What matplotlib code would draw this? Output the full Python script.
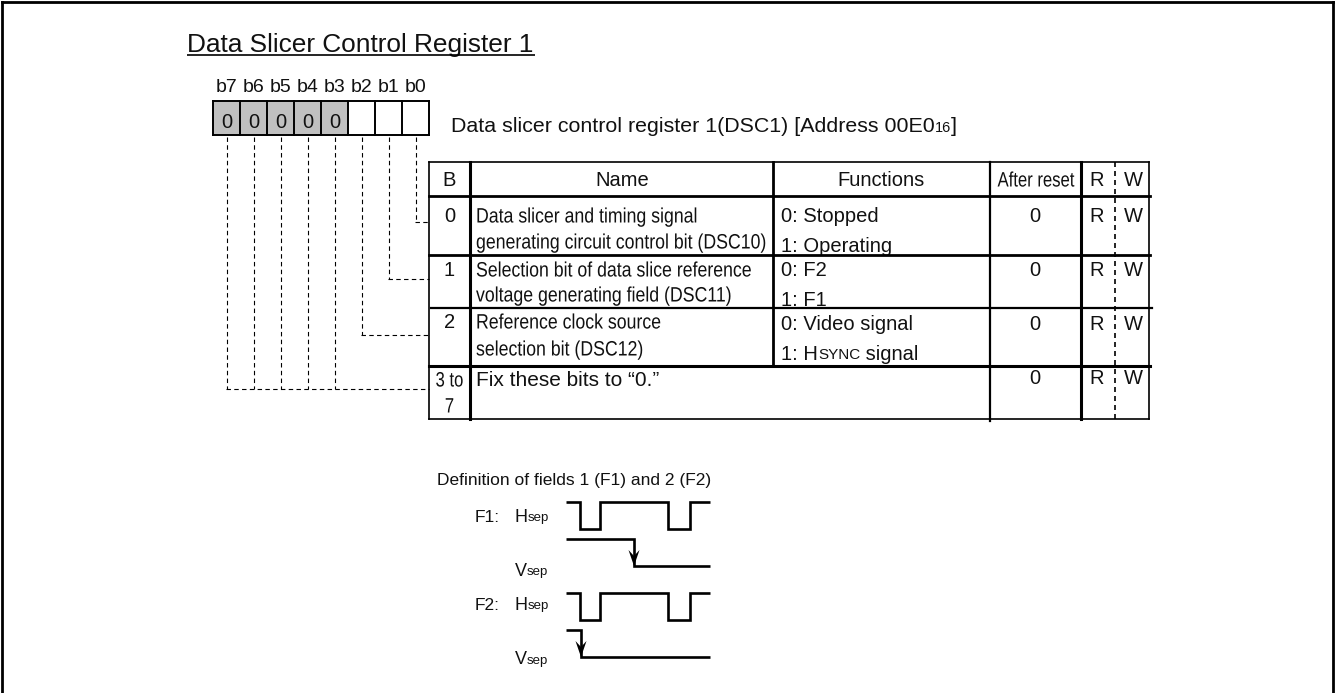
import matplotlib
matplotlib.use("Agg")
import matplotlib.pyplot as plt
from matplotlib.patheffects import AbstractPathEffect
from matplotlib.transforms import Affine2D

plt.rcParams['font.family'] = ['Liberation Sans', 'DejaVu Sans']

title = "Data Slicer Control Register 1"
bit_labels = ["b7", "b6", "b5", "b4", "b3", "b2", "b1", "b0"]
bit_values = ["0", "0", "0", "0", "0", "", "", ""]
col_headers = ["B", "Name", "Functions", "After reset", "R", "W"]
row_bits = ["0", "1", "2"]
row_names = [["Data slicer and timing signal", "generating circuit control bit (DSC10)"],
             ["Selection bit of data slice reference", "voltage generating field (DSC11)"],
             ["Reference clock source", "selection bit (DSC12)"]]
row_funcs = [["0: Stopped", "1: Operating"], ["0: F2", "1: F1"]]
resets = ["0", "0", "0", "0"]

col_x = [429, 470, 773, 990, 1081, 1115, 1149]
row_y = [162, 196, 255, 308, 366, 419]
cell_x = [213 + 27 * i for i in range(9)]
cell_top, cell_bot = 101, 135
hsep_x = [566, 580, 600, 668, 690, 710]
vsep1_x = [566, 634, 634, 710]
vsep2_x = [566, 581, 581, 710]

fig = plt.figure(figsize=(13.35, 6.93), dpi=100)
ax = fig.add_axes([0, 0, 1, 1])
ax.set_xlim(0, 1335)
ax.set_ylim(693, 0)
ax.axis('off')
K = '#000000'


class Squeeze(AbstractPathEffect):
    def __init__(self, x0, sx):
        super().__init__()
        self.x0, self.sx = x0, sx

    def draw_path(self, renderer, gc, tpath, affine, rgbFace=None):
        a = Affine2D(affine.get_matrix()).translate(-self.x0, 0).scale(self.sx, 1).translate(self.x0, 0)
        renderer.draw_path(gc, tpath, a, rgbFace)


def line(xs, ys, lw=1.5, **kw):
    kw.setdefault('solid_capstyle', 'projecting')
    ax.plot(xs, ys, color=K, lw=lw, zorder=4, **kw)


def txt(x, y, s, size=15, ha='left', sx=None, color='#111111'):
    t = ax.text(x, y + 1, s, fontsize=size, ha=ha, va='center', color=color, zorder=2)
    if sx is not None:
        t.set_path_effects([Squeeze(x, sx)])
    return t


def run(x, y, pieces):
    r = fig.canvas.get_renderer()
    for s, size in pieces:
        t = txt(x, y + (1 if size < 12 else 0), s, size)
        x = ax.transData.inverted().transform(t.get_window_extent(r))[1][0]


# outer frame
line([1.5, 1.5], [693, 1.5], 2)
line([1.5, 1333], [1.5, 1.5], 2)
line([1333, 1333], [1.5, 693], 2)

# title
txt(187, 44, title, 18.9)
line([187, 535], [55, 55], 1.2, solid_capstyle='butt')

# register
for i, b in enumerate(bit_labels):
    cx = (cell_x[i] + cell_x[i + 1]) / 2
    txt(cx, 87, b, 14, ha='center')
    filled = bit_values[i] != ""
    ax.fill([cell_x[i], cell_x[i + 1], cell_x[i + 1], cell_x[i]],
            [cell_top, cell_top, cell_bot, cell_bot],
            color='#c0c0c0' if filled else 'white', zorder=1, lw=0)
    txt(cx, 121, bit_values[i], 14.5, ha='center')
for x in cell_x:
    line([x, x], [cell_top, cell_bot], 1.4)
for y in (cell_top, cell_bot):
    line([cell_x[0], cell_x[-1]], [y, y], 1.4)
run(451, 126, [("Data slicer control register 1(DSC1) [Address 00E0", 15.4), ("16", 10.5), ("]", 15.4)])

# leaders
leader_y = [222, 279, 335, 389, 389, 389, 389, 389]
for i in range(8):
    j = 7 - i
    cx = (cell_x[j] + cell_x[j + 1]) / 2
    line([cx, cx], [137, leader_y[i]], 0.8, ls=(0, (4, 3)))
for yy, x0 in [(222, 414.5), (279, 388), (335, 361), (389, 226)]:
    line([x0, 429], [yy, yy], 0.8, ls=(0, (4, 3)))

# table grid
line([col_x[0], col_x[-1]], [row_y[0], row_y[0]], 1.2)
line([col_x[0], col_x[-1]], [row_y[-1], row_y[-1]], 1.2)
line([col_x[0], col_x[0]], [row_y[0], row_y[-1]], 1.2)
line([col_x[-1], col_x[-1]], [row_y[0], row_y[-1]], 1.2)
line([col_x[1], col_x[1]], [row_y[0], row_y[-1]], 2.2)
line([col_x[2], col_x[2]], [row_y[0], row_y[4]], 2.0)
line([col_x[3], col_x[3]], [row_y[0], 421], 1.6)
line([col_x[4], col_x[4]], [row_y[0], row_y[-1]], 2.2)
line([col_x[5], col_x[5]], [row_y[0], row_y[-1]], 1.2, ls=(0, (3, 2.4)))
line([col_x[0], 1150], [row_y[1], row_y[1]], 2.0)
line([col_x[0], 1150], [row_y[2], row_y[2]], 2.0)
line([col_x[0] + 2, 1152], [row_y[3], row_y[3]], 1.6)
line([col_x[0], 1150], [row_y[4], row_y[4]], 2.2)

# header
hy = 180
for i, h in enumerate(col_headers):
    cx = [449.5, 622, 881, 1036, 1097, 1133][i]
    txt(cx, hy, h, 14.5 if i != 3 else 15, ha='center', sx=0.8 if i == 3 else None)

# body
line1_y = [216, 270, 322]
line2_y = [242, 295, 349]
for i in range(3):
    txt(449.5, line1_y[i], row_bits[i], 14.5, ha='center')
    txt(476, line1_y[i], row_names[i][0], 15, sx=0.85)
    txt(476, line2_y[i], row_names[i][1], 15, sx=0.85)
for i in range(2):
    txt(781, line1_y[i] - 1, row_funcs[i][0], 14.5)
    txt(781, [245, 300][i], row_funcs[i][1], 14.5)
txt(781, 323, "0: Video signal", 14.5)
run(781, 353, [("1: H", 14.5), ("SYNC", 11), (" signal", 14.5)])
txt(449.5, 380, "3 to", 15, ha='center', sx=0.8)
txt(449.5, 406, "7", 15, ha='center', sx=0.8)
txt(476, 380, "Fix these bits to \u201c0.\u201d", 15)
for i, r in enumerate(resets):
    y = [216, 270, 323, 377][i]
    txt(1035, y, r, 14.5, ha='center')
    txt(1097, y, "R", 14.5, ha='center')
    txt(1133, y, "W", 14.5, ha='center')

# timing
txt(437, 479, "Definition of fields 1 (F1) and 2 (F2)", 12.5)
for y0, lab in [(516, "F1:"), (604, "F2:")]:
    txt(475, y0, lab, 12.5)
for y0 in (516, 604):
    run(515, y0, [("H", 13), ("sep", 9.5)])
for y0 in (570, 659):
    run(515, y0, [("V", 13), ("sep", 9.5)])


def hsep(top, bot):
    a = hsep_x
    line([a[0], a[1], a[1], a[2], a[2], a[3], a[3], a[4], a[4], a[5]],
         [top, top, bot, bot, top, top, bot, bot, top, top], 1.9,
         solid_joinstyle='miter', solid_capstyle='butt')


hsep(502, 529)
hsep(593, 620)
line([566, vsep1_x[1], vsep1_x[2], 710], [539, 539, 566, 566], 1.9, solid_joinstyle='miter', solid_capstyle='butt')
line([566, vsep2_x[1], vsep2_x[2], 710], [630, 630, 657, 657], 1.9, solid_joinstyle='miter', solid_capstyle='butt')
for x, y in [(634, 566), (581, 657)]:
    ax.fill([x, x - 5.5, x, x + 5.5], [y, y - 16, y - 10, y - 16], color=K, lw=0, zorder=5)

fig.savefig("out.png", dpi=100)
